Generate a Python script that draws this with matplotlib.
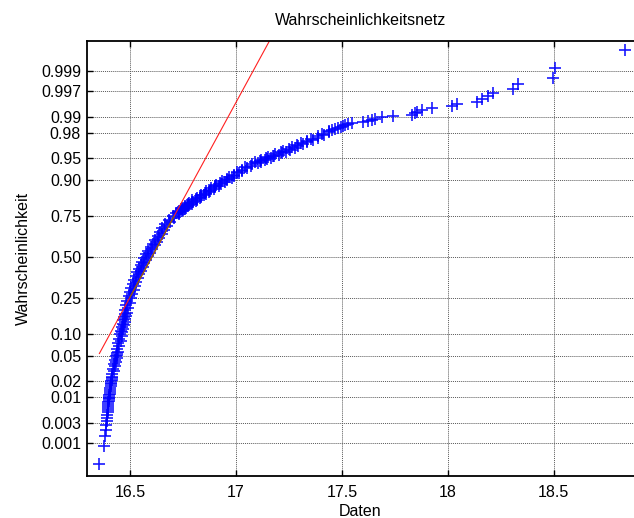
import numpy as np
import matplotlib
matplotlib.use("Agg")
import matplotlib.pyplot as plt
from statistics import NormalDist

plt.rcParams['font.family'] = ['Liberation Sans', 'DejaVu Sans']
plt.rcParams['font.size'] = 11.5

n_werte = 1700
rang = (list(range(1, 21)) + list(range(22, 41, 2)) + list(range(45, 101, 5))
        + list(range(110, 301, 10)) + list(range(320, 1301, 20))
        + list(range(1305, 1601, 5)) + list(range(1602, 1669, 2))
        + list(range(1670, 1701)))

daten = [
    # Rang 1..20
    16.354, 16.378, 16.379, 16.383, 16.387, 16.389, 16.390, 16.392, 16.393, 16.394,
    16.395, 16.395, 16.396, 16.397, 16.398, 16.399, 16.400, 16.400, 16.401, 16.402,
    # Rang 22..40
    16.403, 16.405, 16.406, 16.407, 16.409, 16.410, 16.411, 16.412, 16.414, 16.415,
    # Rang 45..100
    16.415, 16.423, 16.420, 16.427, 16.423, 16.431, 16.427, 16.435, 16.431, 16.439,
    16.435, 16.443,
    # Rang 110..300
    16.4385, 16.449, 16.4435, 16.454, 16.4485, 16.4588, 16.453, 16.463, 16.457, 16.467,
    16.4608, 16.4705, 16.464, 16.4735, 16.467, 16.4765, 16.470, 16.4795, 16.473, 16.4825,
    # Rang 320..1300
    16.4745, 16.4915, 16.4805, 16.4975, 16.4865, 16.5035, 16.4925, 16.5097, 16.4989, 16.5161,
    16.5053, 16.5225, 16.5117, 16.5289, 16.5182, 16.5358, 16.5254, 16.543, 16.5326, 16.5502,
    16.5402, 16.5584, 16.5486, 16.5668, 16.557, 16.5752, 16.5654, 16.584, 16.575, 16.594,
    16.585, 16.6045, 16.596, 16.6155, 16.607, 16.6265, 16.618, 16.6375, 16.629, 16.6485,
    16.640, 16.6595, 16.651, 16.672, 16.666, 16.688, 16.683, 16.706, 16.702, 16.728,
    # Rang 1305..1600
    16.7145, 16.734, 16.7275, 16.745, 16.7285, 16.748, 16.7415, 16.759, 16.743, 16.763,
    16.757, 16.775, 16.759, 16.779, 16.773, 16.791, 16.7755, 16.796, 16.7905, 16.809,
    16.7935, 16.814, 16.809, 16.828, 16.813, 16.834, 16.8295, 16.849, 16.8345, 16.856,
    16.8515, 16.871, 16.8565, 16.878, 16.874, 16.894, 16.880, 16.902, 16.8985, 16.919,
    16.906, 16.929, 16.926, 16.947, 16.935, 16.959, 16.957, 16.979, 16.9675, 16.992,
    16.991, 17.014, 17.003, 17.028, 17.028, 17.052, 17.044, 17.072, 17.0765, 17.105,
    # Rang 1602..1668
    17.090, 17.117, 17.111, 17.135, 17.119, 17.147, 17.142, 17.167, 17.152, 17.180,
    17.175, 17.201, 17.186, 17.215, 17.211, 17.238, 17.223, 17.253, 17.249, 17.276,
    17.262, 17.293, 17.290, 17.318, 17.305, 17.337, 17.335, 17.364, 17.353, 17.386,
    17.387, 17.417, 17.406, 17.437,
    # Rang 1670..1700
    17.440, 17.452, 17.466, 17.480, 17.496, 17.505, 17.515, 17.529, 17.548, 17.601,
    17.625, 17.641, 17.656, 17.688, 17.740, 17.830, 17.845, 17.856, 17.877, 17.924,
    18.019, 18.042, 18.137, 18.161, 18.192, 18.215, 18.310, 18.333, 18.499, 18.507,
    18.837,
]
assert len(rang) == len(daten)

# Referenzgerade (Normalverteilung durch die Quartile)
mu = 16.602
sigma = 0.155

ytick_werte = [0.001, 0.003, 0.01, 0.02, 0.05, 0.10, 0.25, 0.50,
               0.75, 0.90, 0.95, 0.98, 0.99, 0.997, 0.999]
ytick_text = ['0.001', '0.003', '0.01', '0.02', '0.05', '0.10', '0.25', '0.50',
              '0.75', '0.90', '0.95', '0.98', '0.99', '0.997', '0.999']
xtick_werte = [16.5, 17, 17.5, 18, 18.5]
xtick_text = ['16.5', '17', '17.5', '18', '18.5']

nd = NormalDist()
inv = np.vectorize(nd.inv_cdf, otypes=[float])
cdf = np.vectorize(nd.cdf, otypes=[float])


def vorwaerts(p):
    p = np.clip(np.asarray(p, dtype=float), 1e-12, 1 - 1e-12)
    return inv(p)


def rueckwaerts(z):
    return cdf(np.asarray(z, dtype=float))


wahrsch = (np.array(rang) - 0.5) / n_werte

fig = plt.figure(figsize=(6.34, 5.18), dpi=100)
ax = fig.add_axes([87 / 634, 42 / 518, 547 / 634, 435.3 / 518])
ax.set_yscale('function', functions=(vorwaerts, rueckwaerts))

ax.plot(daten, wahrsch, '+', color='#0000ff', ms=8.3, mew=1.2, alpha=0.9)

# Gerade und Quartilabschnitt
gx = np.array([min(daten), 17.4])
ax.plot(gx, cdf((gx - mu) / sigma), color='#ff2020', lw=0.8)
qx = mu + sigma * np.array([nd.inv_cdf(0.25), nd.inv_cdf(0.75)])
ax.plot(qx, cdf((qx - mu) / sigma), color='#806010', lw=0.9)

ax.set_xlim(16.2955, 18.880)
ax.set_ylim(nd.cdf(-3.632), nd.cdf(3.588))
ax.set_yticks(ytick_werte)
ax.set_yticklabels(ytick_text)
ax.set_xticks(xtick_werte)
ax.set_xticklabels(xtick_text)
ax.minorticks_off()

ax.grid(True, color='0.35', linestyle=(0, (1, 1)), linewidth=0.7)
ax.tick_params(direction='in', length=4, width=1, top=True, right=False)
ax.tick_params(axis='y', pad=4.3)
ax.tick_params(axis='x', pad=6.5)
for s in ['left', 'bottom', 'top']:
    ax.spines[s].set_linewidth(1.3)
ax.spines['right'].set_visible(False)

ax.set_title('Wahrscheinlichkeitsnetz', fontsize=11.5, pad=11)
ax.set_xlabel('Daten', labelpad=3)
ax.set_ylabel('Wahrscheinlichkeit', labelpad=7)

fig.savefig('out.png', dpi=100)
